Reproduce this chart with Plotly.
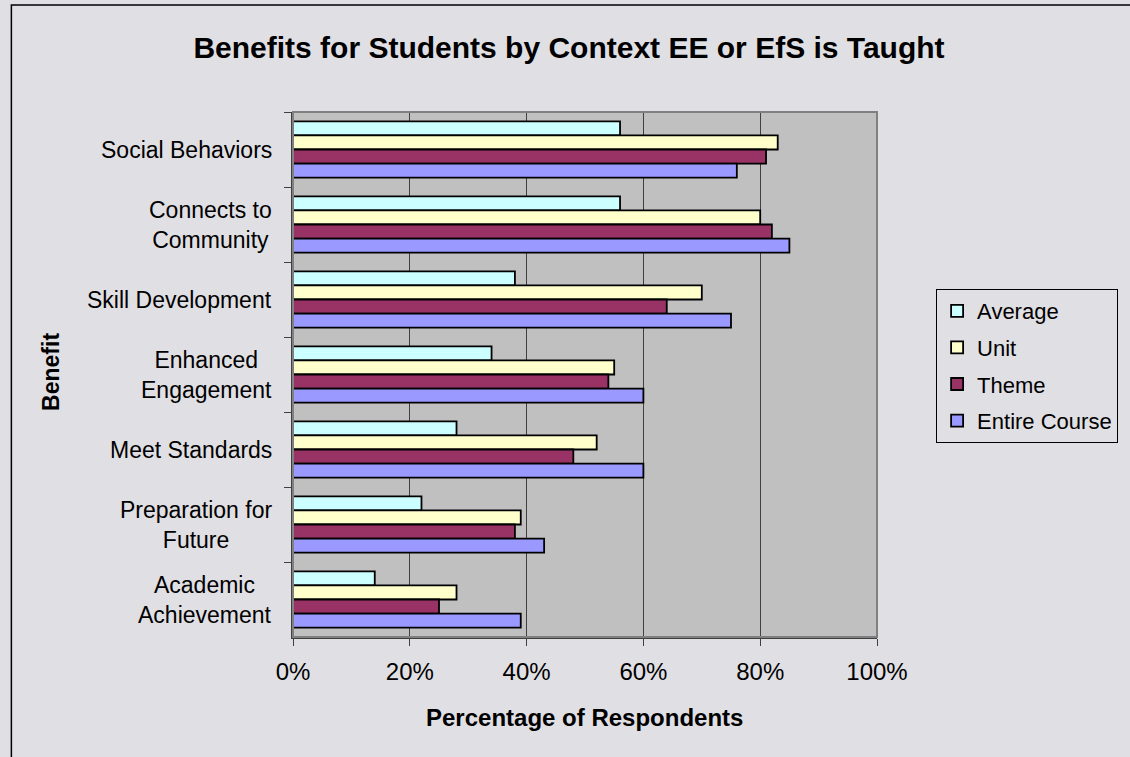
import plotly.graph_objects as go

# Kategorien (von oben nach unten) und Werte je Kontext
benefits = ["Social Behaviors", "Connects to<br>Community", "Skill Development",
            "Enhanced<br>Engagement", "Meet Standards", "Preparation for<br>Future",
            "Academic<br>Achievement"]
average = [0.56, 0.56, 0.38, 0.34, 0.28, 0.22, 0.14]
unit = [0.83, 0.80, 0.70, 0.55, 0.52, 0.39, 0.28]
theme = [0.81, 0.82, 0.64, 0.54, 0.48, 0.38, 0.25]
entire_course = [0.76, 0.85, 0.75, 0.60, 0.60, 0.43, 0.39]
x_ticks = [0, 0.2, 0.4, 0.6, 0.8, 1.0]

series = [
    ("Average", average, "#CCFFFF"),
    ("Unit", unit, "#FFFFCC"),
    ("Theme", theme, "#993366"),
    ("Entire Course", entire_course, "#9999FF"),
]

FONT = "Liberation Sans, Arial, sans-serif"
W, H = 1130, 757
L, R, T, B = 293, 246, 112, 120
pw, ph = W - L - R, H - T - B

fig = go.Figure()
for name, vals, color in series:
    fig.add_trace(go.Bar(
        y=benefits, x=vals, name=name, orientation="h",
        marker=dict(color=color, line=dict(color="black", width=1.8)),
        legendgroup=name,
    ))

# Beschriftungen der Kategorien (zentriert, mehrzeilig)
annotations = []
for b in benefits:
    annotations.append(dict(x=0, xref="paper", y=b, yref="y", text=b, showarrow=False,
                            xanchor="right", yanchor="middle", xshift=-19, align="center",
                            font=dict(size=23, color="black", family=FONT)))

annotations.append(dict(x=(48 - L) / pw, xref="paper", y=(H - B - 372) / ph, yref="paper",
                        xanchor="center", yanchor="middle",
                        text="<b>Benefit</b>", textangle=-90, showarrow=False,
                        font=dict(size=23, color="black", family=FONT)))
annotations.append(dict(x=(588 - L) / pw, xref="paper", y=(H - B - 717) / ph, yref="paper",
                        xanchor="center", yanchor="middle",
                        text="<b>Percentage of Respondents</b>", showarrow=False,
                        font=dict(size=24, color="black", family=FONT)))

shapes = [
    # Rahmen der Grafik (links und oben sichtbar)
    dict(type="rect", xref="paper", yref="paper", x0=(8 - L) / pw, x1=2, y0=-1,
         y1=(H - B - 5) / ph, line=dict(color="black", width=1.5), layer="below"),
    # Rahmen der Zeichenfläche
    dict(type="rect", xref="paper", yref="paper", x0=0, x1=1, y0=0, y1=1,
         line=dict(color="#808080", width=2)),
]

fig.update_layout(
    width=W, height=H, autosize=False,
    margin=dict(l=L, r=R, t=T, b=B),
    paper_bgcolor="#E0DFE3", plot_bgcolor="#C0C0C0",
    font=dict(family=FONT, size=23, color="black"),
    title=dict(text="<b>Benefits for Students by Context EE or EfS is Taught</b>",
               x=569 / W, xanchor="center", y=1 - 47 / H, yanchor="middle",
               font=dict(size=30, color="black", family=FONT)),
    barmode="group", bargap=0.25, bargroupgap=0,
    showlegend=True,
    legend=dict(x=(1128 - L) / pw, xanchor="right", y=(H - B - 366) / ph, yanchor="middle",
                bgcolor="#E0DFE3", bordercolor="black", borderwidth=1,
                font=dict(size=22, color="black", family=FONT),
                tracegroupgap=5, itemwidth=30),
    annotations=annotations,
    shapes=shapes,
)

fig.update_xaxes(range=[0, 1], tickvals=x_ticks, tickformat=".0%",
                 showgrid=True, gridcolor="#404040", gridwidth=1,
                 showline=True, linecolor="#404040", linewidth=1.5,
                 ticks="outside", ticklen=7, tickcolor="#404040", ticklabelstandoff=5,
                 tickfont=dict(size=24, color="black"), zeroline=False)
fig.update_yaxes(autorange="reversed", showticklabels=False, tickson="boundaries",
                 ticks="outside", ticklen=7, tickcolor="#404040",
                 showline=True, linecolor="#404040", linewidth=1.5, showgrid=False)

# Seitenrand des Browsers entfernen, damit die Grafik bei (0,0) beginnt
fig.write_html("out.html", config={"displayModeBar": False},
               post_script="document.body.style.margin='0px';")
